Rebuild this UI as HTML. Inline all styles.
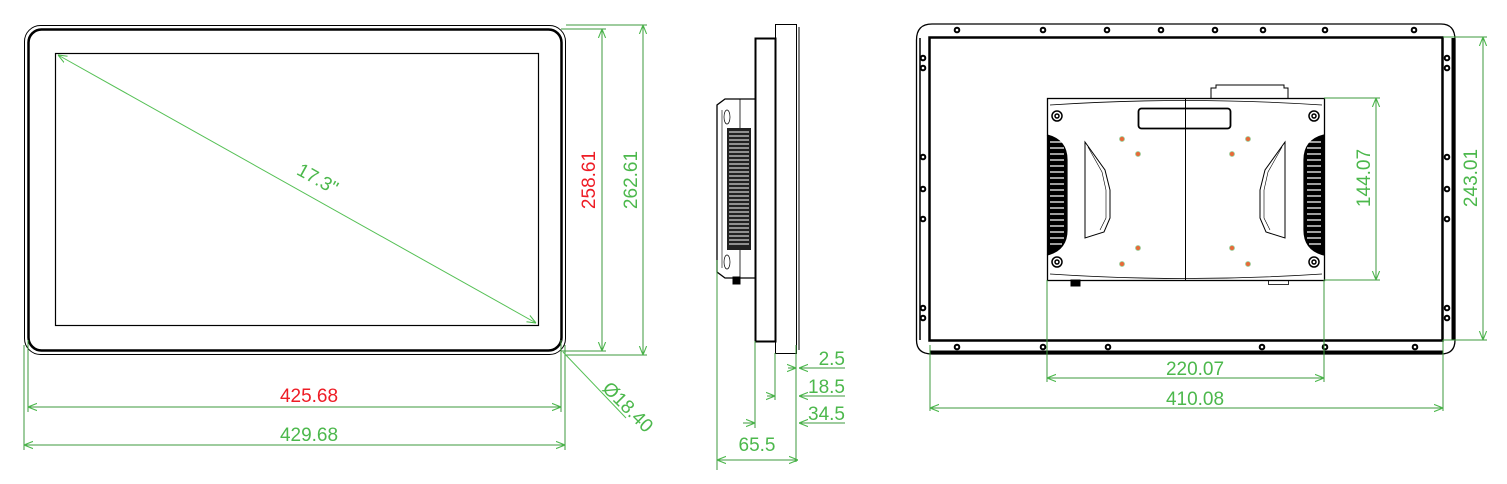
<!DOCTYPE html>
<html><head><meta charset="utf-8"><style>
html,body{margin:0;padding:0;background:#fff;}
svg{display:block;}
text{font-family:"Liberation Sans",sans-serif;font-size:19px;}
.g{fill:#4cb84c;}
.r{fill:#ee1c25;}
</style></head><body>
<svg width="1507" height="484" viewBox="0 0 1507 484" xmlns="http://www.w3.org/2000/svg">
<defs>
<marker id="a" viewBox="0 0 10 10" refX="10" refY="5" markerWidth="9" markerHeight="9" orient="auto-start-reverse" markerUnits="userSpaceOnUse"><path d="M0,1 L10,5 L0,9" fill="none" stroke="#4cb84c" stroke-width="1.2"/></marker>
</defs>
<g fill="none" stroke="#000">
<rect x="24.5" y="25.5" width="541" height="329" rx="16" stroke-width="1"/>
<rect x="28.5" y="29.5" width="533" height="321" rx="13" stroke-width="2.5"/>
<rect x="55.5" y="53.5" width="483" height="272" stroke-width="1.2"/>
<rect x="775.5" y="24.5" width="21" height="329" stroke-width="1"/>
<line x1="799" y1="27" x2="799" y2="350" stroke-width="1"/>
<rect x="755.5" y="38.5" width="20" height="303" stroke-width="2"/>
<path d="M755,99 L725,99 L717,105 L717,272 L725,278 L755,278" stroke-width="1.3"/>
<line x1="740" y1="99" x2="740" y2="278" stroke-width="0.8"/>
<line x1="722" y1="110" x2="722" y2="268" stroke-width="0.6"/>
<ellipse cx="727" cy="117" rx="3" ry="7" stroke-width="0.7"/>
<ellipse cx="727" cy="262" rx="3" ry="7" stroke-width="0.7"/>
<rect x="733" y="277" width="7" height="7" fill="#000"/>
</g>
<rect x="727" y="128" width="24" height="122" fill="#222"/>
<g stroke="#fff" stroke-width="1">
<path d="M729,132H749 M729,136H749 M729,140H749 M729,144H749 M729,148H749 M729,152H749 M729,156H749 M729,160H749 M729,164H749 M729,168H749 M729,172H749 M729,176H749 M729,180H749 M729,184H749 M729,188H749 M729,192H749 M729,196H749 M729,200H749 M729,204H749 M729,208H749 M729,212H749 M729,216H749 M729,220H749 M729,224H749 M729,228H749 M729,232H749 M729,236H749 M729,240H749 M729,244H749"/>
</g>
<g fill="none" stroke="#000">
<path d="M916.5,340 L916.5,40 Q916.5,24 932,24 L1441,24 Q1455,24 1455,40 L1455,340 Q1455,354 1441,354 L932,354 Q916.5,354 916.5,340" stroke-width="1.3"/>
<line x1="1453" y1="38" x2="1453" y2="340" stroke-width="3"/>
<line x1="920" y1="38" x2="920" y2="340" stroke-width="1.5"/>
<rect x="929.5" y="37.5" width="513" height="303" stroke-width="2.5"/>
<line x1="930" y1="352" x2="1443" y2="352" stroke-width="3"/>
<rect x="1047.5" y="98.5" width="277" height="182" stroke-width="1.3"/>
<path d="M1050,105 Q1185,96 1322,105 M1050,274 Q1185,283 1322,274" stroke-width="0.8"/>
<line x1="1185.5" y1="98" x2="1185.5" y2="280" stroke-width="1"/>
<rect x="1138.5" y="108.5" width="92" height="20" rx="3" stroke-width="1.8"/>
<path d="M1211,98 V88 H1216 V85 H1284 V88 H1288 V98" stroke-width="1"/>
<path d="M1085,142 L1105,170 L1110,190 L1110,218 L1104,232 L1085,238 Z" stroke-width="1"/>
<path d="M1088,147 L1102,172 L1106,190 L1106,218 L1100,230" stroke-width="0.6"/>
<path d="M1285,142 L1265,170 L1260,190 L1260,218 L1266,232 L1285,238 Z" stroke-width="1"/>
<path d="M1282,147 L1268,172 L1264,190 L1264,218 L1270,230" stroke-width="0.6"/>
<path d="M1047,135 Q1067,140 1067,160 L1067,230 Q1067,250 1047,255" stroke-width="1.2" fill="#000"/>
<path d="M1324,135 Q1304,140 1304,160 L1304,230 Q1304,250 1324,255" stroke-width="1.2" fill="#000"/>
<rect x="1071" y="280" width="9" height="6" fill="#000"/>
<rect x="1268.5" y="280.5" width="20" height="4" stroke-width="0.8"/>
</g>
<g stroke="#fff" stroke-width="1.2">
<path d="M1050,142H1062 M1050,148H1064 M1050,154H1064 M1050,160H1064 M1050,166H1064 M1050,172H1064 M1050,178H1064 M1050,184H1064 M1050,190H1064 M1050,196H1064 M1050,202H1064 M1050,208H1064 M1050,214H1064 M1050,220H1064 M1050,226H1064 M1050,232H1064 M1050,238H1064 M1050,244H1062"/>
<path d="M1309,142H1321 M1307,148H1321 M1307,154H1321 M1307,160H1321 M1307,166H1321 M1307,172H1321 M1307,178H1321 M1307,184H1321 M1307,190H1321 M1307,196H1321 M1307,202H1321 M1307,208H1321 M1307,214H1321 M1307,220H1321 M1307,226H1321 M1307,232H1321 M1307,238H1321 M1309,244H1321"/>
</g>
<g fill="none" stroke="#000" stroke-width="1.5">
<circle cx="1057" cy="116" r="5"/><circle cx="1057" cy="116" r="2"/>
<circle cx="1314" cy="116" r="5"/><circle cx="1314" cy="116" r="2"/>
<circle cx="1057" cy="262" r="5"/><circle cx="1057" cy="262" r="2"/>
<circle cx="1314" cy="262" r="5"/><circle cx="1314" cy="262" r="2"/>
</g>
<g fill="#e86a3a" stroke="#9c9" stroke-width="0.8">
<circle cx="1122" cy="139" r="2.5"/><circle cx="1138" cy="154" r="2.5"/><circle cx="1138" cy="248" r="2.5"/><circle cx="1122" cy="264" r="2.5"/>
<circle cx="1248" cy="139" r="2.5"/><circle cx="1232" cy="154" r="2.5"/><circle cx="1232" cy="248" r="2.5"/><circle cx="1248" cy="264" r="2.5"/>
</g>
<g fill="#fff" stroke="#000" stroke-width="2">
<circle cx="957" cy="30" r="2.3"/><circle cx="1043" cy="30" r="2.3"/><circle cx="1107" cy="30" r="2.3"/><circle cx="1161" cy="30" r="2.3"/><circle cx="1215" cy="30" r="2.3"/><circle cx="1263" cy="30" r="2.3"/><circle cx="1325" cy="30" r="2.3"/><circle cx="1414" cy="30" r="2.3"/>
<circle cx="957" cy="347" r="2.3"/><circle cx="1043" cy="347" r="2.3"/><circle cx="1108" cy="347" r="2.3"/><circle cx="1262" cy="347" r="2.3"/><circle cx="1325" cy="347" r="2.3"/><circle cx="1415" cy="347" r="2.3"/>
<circle cx="923" cy="58" r="2.3"/><circle cx="923" cy="68" r="2.3"/><circle cx="923" cy="157" r="2.3"/><circle cx="923" cy="189" r="2.3"/><circle cx="923" cy="219" r="2.3"/><circle cx="923" cy="308" r="2.3"/><circle cx="923" cy="318" r="2.3"/>
<circle cx="1447" cy="58" r="2.3"/><circle cx="1447" cy="68" r="2.3"/><circle cx="1447" cy="157" r="2.3"/><circle cx="1447" cy="189" r="2.3"/><circle cx="1447" cy="219" r="2.3"/><circle cx="1447" cy="308" r="2.3"/><circle cx="1447" cy="318" r="2.3"/>
</g>
<g fill="none" stroke="#3c9a3c" stroke-width="1">
<line x1="58" y1="55" x2="536" y2="323" stroke="#55c055" marker-start="url(#a)" marker-end="url(#a)"/>
<line x1="561" y1="29" x2="606" y2="29"/><line x1="561" y1="351" x2="606" y2="351"/>
<line x1="602" y1="29" x2="602" y2="351" marker-start="url(#a)" marker-end="url(#a)"/>
<line x1="566" y1="25" x2="647" y2="25"/><line x1="566" y1="355" x2="647" y2="355"/>
<line x1="643" y1="25" x2="643" y2="355" marker-start="url(#a)" marker-end="url(#a)"/>
<line x1="28" y1="340" x2="28" y2="412"/><line x1="561" y1="340" x2="561" y2="412"/>
<line x1="28" y1="407" x2="561" y2="407" marker-start="url(#a)" marker-end="url(#a)"/>
<line x1="24" y1="345" x2="24" y2="450"/><line x1="565" y1="345" x2="565" y2="450"/>
<line x1="24" y1="445" x2="565" y2="445" marker-start="url(#a)" marker-end="url(#a)"/>
<line x1="563" y1="352" x2="626" y2="418" stroke="#55c055"/>
<line x1="796" y1="345" x2="796" y2="462"/>
<line x1="775" y1="353" x2="775" y2="400"/>
<line x1="755" y1="341" x2="755" y2="428"/>
<line x1="717" y1="260" x2="717" y2="470"/>
<line x1="788" y1="368" x2="796" y2="368" marker-end="url(#a)"/><line x1="845" y1="368" x2="799" y2="368" marker-end="url(#a)"/>
<line x1="767" y1="396" x2="775" y2="396" marker-end="url(#a)"/><line x1="845" y1="396" x2="799" y2="396" marker-end="url(#a)"/>
<line x1="743" y1="423" x2="755" y2="423" marker-end="url(#a)"/><line x1="845" y1="423" x2="799" y2="423" marker-end="url(#a)"/>
<line x1="717" y1="460" x2="798" y2="460" marker-start="url(#a)" marker-end="url(#a)"/>
<line x1="1324" y1="98" x2="1380" y2="98"/><line x1="1324" y1="280" x2="1380" y2="280"/>
<line x1="1376" y1="98" x2="1376" y2="280" marker-start="url(#a)" marker-end="url(#a)"/>
<line x1="1443" y1="37" x2="1487" y2="37"/><line x1="1443" y1="340" x2="1487" y2="340"/>
<line x1="1483" y1="37" x2="1483" y2="340" marker-start="url(#a)" marker-end="url(#a)"/>
<line x1="1047" y1="280" x2="1047" y2="382"/><line x1="1324" y1="280" x2="1324" y2="382"/>
<line x1="1047" y1="378" x2="1324" y2="378" marker-start="url(#a)" marker-end="url(#a)"/>
<line x1="930" y1="345" x2="930" y2="411"/><line x1="1443" y1="340" x2="1443" y2="411"/>
<line x1="930" y1="408" x2="1443" y2="408" marker-start="url(#a)" marker-end="url(#a)"/>
</g>
<text class="g" transform="translate(317,180) rotate(29)" text-anchor="middle" dominant-baseline="middle">17.3"</text>
<text class="r" transform="translate(590,180) rotate(-90)" text-anchor="middle" dominant-baseline="middle">258.61</text>
<text class="g" transform="translate(632,180) rotate(-90)" text-anchor="middle" dominant-baseline="middle">262.61</text>
<text class="r" x="309" y="402" text-anchor="middle">425.68</text>
<text class="g" x="309" y="441" text-anchor="middle">429.68</text>
<text class="g" transform="translate(627,408) rotate(45)" text-anchor="middle" dominant-baseline="middle">Ø18.40</text>
<text class="g" x="845" y="365" text-anchor="end">2.5</text>
<text class="g" x="845" y="393" text-anchor="end">18.5</text>
<text class="g" x="845" y="420" text-anchor="end">34.5</text>
<text class="g" x="757" y="451" text-anchor="middle">65.5</text>
<text class="g" transform="translate(1365,178) rotate(-90)" text-anchor="middle" dominant-baseline="middle">144.07</text>
<text class="g" transform="translate(1472,178) rotate(-90)" text-anchor="middle" dominant-baseline="middle">243.01</text>
<text class="g" x="1195" y="375" text-anchor="middle">220.07</text>
<text class="g" x="1195" y="405" text-anchor="middle">410.08</text>
</svg>
</body></html>
